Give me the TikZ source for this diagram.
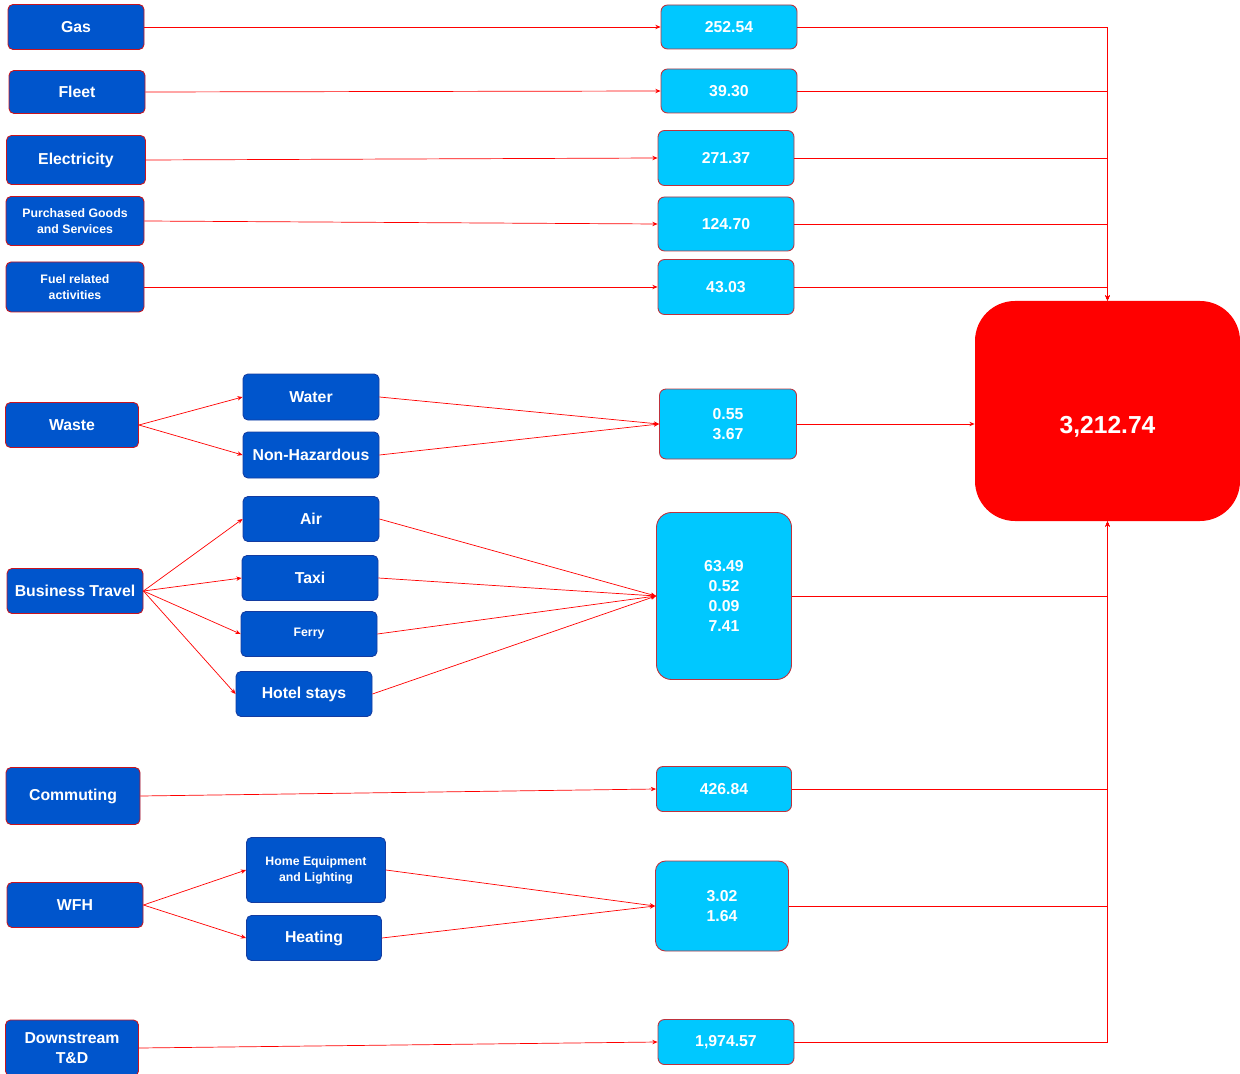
\documentclass[tikz,border=0pt]{standalone}
\usepackage{fontspec}
\setmainfont{Liberation Sans}
\usetikzlibrary{arrows.meta}

\definecolor{srcblue}{RGB}{0,85,204}
\definecolor{valcyan}{RGB}{0,200,255}
\definecolor{linered}{RGB}{255,0,0}
\definecolor{edgered}{RGB}{200,20,30}
\definecolor{subedge}{RGB}{20,60,160}
\definecolor{valedge}{RGB}{190,50,60}

\tikzset {
  dims/.style 2 args = {
    minimum width = #1*0.02cm,
    minimum height = #2*0.02cm
  },
  box base/.style = {
    rounded corners = 0.1cm,
    text = white,
    align = center,
    inner sep = 0,
    line width = 0.5pt,
    font = \bfseries\fontsize{9}{11.3}\selectfont
  },
  % category on the left
  source/.style = {
    box base,
    fill = srcblue,
    draw = edgered
  },
  % breakdown in the middle
  part/.style = {
    box base,
    fill = srcblue,
    draw = subedge
  },
  % emission values
  value/.style = {
    box base,
    fill = valcyan,
    draw = valedge,
    rounded corners = 0.13cm
  },
  total/.style = {
    fill = linered,
    rounded corners = 0.8cm,
    inner sep = 0
  },
  small/.style = {
    font = \bfseries\fontsize{7}{9}\selectfont
  }
}
\tikzset {
  % red connector with a small tip
  flow/.style = {
    draw = linered,
    line width = 0.4pt,
    -{Stealth[length=3pt,width=2.5pt]}
  }
}

\begin{document}
\begin{tikzpicture}[x=0.02cm, y=-0.02cm]
    \useasboundingbox (0,0) rectangle (1240,1074);

    \node[source, dims={136}{45}] (gas) at (76,27) {Gas};
    \node[source, dims={136}{43}] (fleet) at (77,92) {Fleet};
    \node[source, dims={139}{49}] (elec) at (76,160) {Electricity};
    \node[source, small, dims={138}{49}] (goods) at (75,221) {Purchased Goods\\and Services};
    \node[source, small, dims={138}{50}] (fuel) at (75,287) {Fuel related\\activities};
    \node[source, dims={133}{45}] (waste) at (72,425) {Waste};
    \node[source, dims={136}{45}] (travel) at (75,591) {Business Travel};
    \node[source, dims={134}{57}] (commute) at (73,796) {Commuting};
    \node[source, dims={136}{45}] (wfh) at (75,905) {WFH};
    \node[source, dims={133}{56}] (down) at (72,1048) {Downstream\\T\&D};

    \node[part, dims={136}{46}] (water) at (311,397) {Water};
    \node[part, dims={136}{46}] (nonhaz) at (311,455) {Non-Hazardous};
    \node[part, dims={136}{45}] (air) at (311,519) {Air};
    \node[part, dims={136}{45}] (taxi) at (310,578) {Taxi};
    \node[part, small, dims={136}{45}] (ferry) at (309,634) {Ferry};
    \node[part, dims={136}{45}] (hotel) at (304,694) {Hotel stays};
    \node[part, small, dims={139}{65}] (homeeq) at (316,870) {Home Equipment\\and Lighting};
    \node[part, dims={135}{45}] (heating) at (314,938) {Heating};

    \node[value, dims={136}{44}] (v-gas) at (729,27) {252.54};
    \node[value, dims={136}{44}] (v-fleet) at (729,91) {39.30};
    \node[value, dims={136}{55}] (v-elec) at (726,158) {271.37};
    \node[value, dims={136}{54}] (v-goods) at (726,224) {124.70};
    \node[value, dims={136}{55}] (v-fuel) at (726,287) {43.03};
    \node[value, dims={137}{70}] (v-waste) at (728,424) {0.55\\3.67};
    \node[value, rounded corners=0.3cm, dims={135}{167}] (v-travel) at (724,596) {63.49\\0.52\\0.09\\7.41};
    \node[value, dims={135}{45}] (v-commute) at (724,789) {426.84};
    \node[value, rounded corners=0.2cm, dims={133}{90}] (v-wfh) at (722,906) {3.02\\1.64};
    \node[value, dims={136}{45}] (v-down) at (726,1042) {1,974.57};

    \node[total, dims={265}{220}] (total) at (1107.5,411) {};
    \node[text=white, font=\bfseries\fontsize{14}{16}\selectfont] (total-val) at (1107.5,427) {3,212.74};

    \draw[flow] (gas.east) -- (v-gas.west);
    \draw[flow] (fleet.east) -- (v-fleet.west);
    \draw[flow] (elec.east) -- (v-elec.west);
    \draw[flow] (goods.east) -- (v-goods.west);
    \draw[flow] (fuel.east) -- (v-fuel.west);

    \draw[flow] (waste.east) -- (water.west);
    \draw[flow] (waste.east) -- (nonhaz.west);
    \draw[flow] (water.east) -- (v-waste.west);
    \draw[flow] (nonhaz.east) -- (v-waste.west);

    \draw[flow] (travel.east) -- (air.west);
    \draw[flow] (travel.east) -- (taxi.west);
    \draw[flow] (travel.east) -- (ferry.west);
    \draw[flow] (travel.east) -- (hotel.west);
    \draw[flow] (air.east) -- (v-travel.west);
    \draw[flow] (taxi.east) -- (v-travel.west);
    \draw[flow] (ferry.east) -- (v-travel.west);
    \draw[flow] (hotel.east) -- (v-travel.west);

    \draw[flow] (commute.east) -- (v-commute.west);

    \draw[flow] (wfh.east) -- (homeeq.west);
    \draw[flow] (wfh.east) -- (heating.west);
    \draw[flow] (homeeq.east) -- (v-wfh.west);
    \draw[flow] (heating.east) -- (v-wfh.west);

    \draw[flow] (down.east) -- (v-down.west);

    % totals go into the big box
    \draw[flow] (v-gas.east) -| (total.north);
    \draw[flow] (v-fleet.east) -| (total.north);
    \draw[flow] (v-elec.east) -| (total.north);
    \draw[flow] (v-goods.east) -| (total.north);
    \draw[flow] (v-fuel.east) -| (total.north);
    \draw[flow] (v-waste.east) -- (v-waste.east -| total.west);
    \draw[flow] (v-travel.east) -| (total.south);
    \draw[flow] (v-commute.east) -| (total.south);
    \draw[flow] (v-wfh.east) -| (total.south);
    \draw[flow] (v-down.east) -| (total.south);

  \end{tikzpicture}
\end{document}
